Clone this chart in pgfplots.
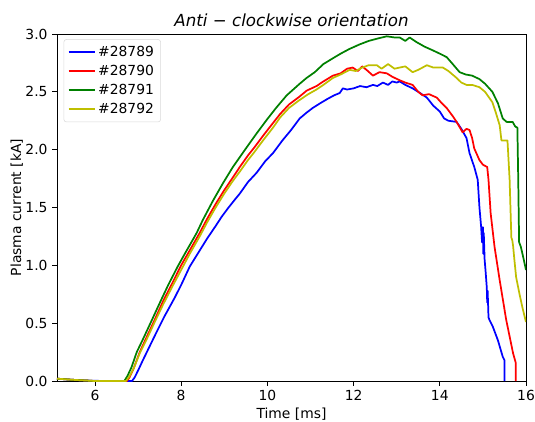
\documentclass[border=0pt]{standalone}
\usepackage{fontspec}
\setmainfont{DejaVu Sans}
\usepackage{pgfplots}
\pgfplotsset{compat=1.18}
\definecolor{mplblue}{rgb}{0,0,1}
\definecolor{mplred}{rgb}{1,0,0}
\definecolor{mplgreen}{rgb}{0,0.5,0}
\definecolor{mplyellow}{rgb}{0.75,0.75,0}
\begin{document}
\begin{tikzpicture}[font=\fontsize{10.4}{12.5}\selectfont]
\path[use as bounding box] (-42.75pt,-30pt) rectangle (358.5pt,285.75pt);
\begin{axis}[
  at={(0pt,0pt)}, anchor=south west,
  scale only axis, width=351.75pt, height=260.25pt,
  xmin=5.12, xmax=16, ymin=0, ymax=3,
  xtick={6,8,10,12,14,16}, ytick={0,0.5,1,1.5,2,2.5,3},
  yticklabel style={/pgf/number format/.cd,fixed,fixed zerofill,precision=1},
  /pgf/number format/assume math mode=true,
  tick pos=left, tick align=outside, major tick length=3.6pt,
  tick style={black, line width=0.6pt},
  axis line style={black, line width=0.6pt},
  xlabel={Time [ms]}, ylabel={Plasma current [kA]},
  xlabel style={yshift=1.5pt},
  ylabel shift=-5pt,
  title={Anti − clockwise orientation},
  title style={font=\fontsize{12.5}{15}\selectfont\itshape, yshift=-4pt},
  legend cell align=left,
  legend style={at={(0.014,0.985)}, anchor=north west, draw=black!15, rounded corners=2pt,
     fill=white, font=\fontsize{10.4}{12.5}\selectfont, inner sep=3pt, row sep=1pt},
  legend image code/.code={\draw[#1, line width=1.3pt] (0pt,0pt) -- (19.5pt,0pt);},
  every axis plot/.append style={line width=1.3pt, line join=round},
]
\addplot[mplblue] coordinates {
(5.12,0.020) (5.4,0.012) (5.8,0.004) (6.2,0.000) (6.86,0.000) (6.92,0.03) (7.00,0.09) (7.10,0.17)
(7.23,0.27) (7.40,0.40) (7.60,0.55) (7.85,0.72) (8.00,0.83) (8.20,0.99) (8.40,1.11) (8.60,1.23)
(8.80,1.34) (8.94,1.42) (9.10,1.50) (9.25,1.57) (9.36,1.62) (9.55,1.72) (9.75,1.80) (9.95,1.90)
(10.13,1.97) (10.35,2.08) (10.55,2.17) (10.75,2.27) (10.91,2.32) (11.05,2.36) (11.22,2.40)
(11.40,2.44) (11.55,2.47) (11.68,2.49) (11.75,2.53) (11.85,2.52) (12.00,2.53) (12.15,2.55)
(12.30,2.54) (12.45,2.56) (12.55,2.55) (12.68,2.58) (12.80,2.56) (12.90,2.59) (13.00,2.58)
(13.07,2.59) (13.20,2.56) (13.37,2.53) (13.50,2.50) (13.70,2.45) (13.85,2.38) (14.00,2.33)
(14.10,2.27) (14.20,2.25) (14.39,2.24) (14.50,2.18) (14.62,2.10) (14.69,1.97) (14.80,1.85)
(14.88,1.74) (14.92,1.50) (14.96,1.33) (14.98,1.20) (15.00,1.33) (15.01,1.10) (15.02,1.28)
(15.04,1.05) (15.06,0.96) (15.09,0.81) (15.10,0.68) (15.11,0.78) (15.13,0.55) (15.15,0.53)
(15.23,0.47) (15.35,0.35) (15.46,0.21) (15.50,0.18) (15.50,0.00)
};
\addlegendentry{\#28789}
\addplot[mplred] coordinates {
(5.12,0.02) (5.5,0.01) (6.0,0.0) (6.74,0.0) (6.80,0.03) (6.90,0.11) (7.04,0.25) (7.20,0.38)
(7.40,0.54) (7.58,0.69) (7.80,0.85) (8.00,1.00) (8.20,1.13) (8.43,1.28) (8.60,1.40) (8.80,1.53)
(9.00,1.65) (9.20,1.76) (9.36,1.85) (9.55,1.95) (9.70,2.02) (9.90,2.12) (10.13,2.23) (10.30,2.31)
(10.50,2.39) (10.75,2.46) (10.91,2.51) (11.14,2.55) (11.30,2.59) (11.52,2.64) (11.70,2.66)
(11.85,2.70) (11.98,2.71) (12.10,2.68) (12.20,2.72) (12.30,2.69) (12.45,2.64) (12.60,2.67)
(12.77,2.66) (12.90,2.63) (13.07,2.60) (13.20,2.58) (13.37,2.56) (13.50,2.50) (13.60,2.47)
(13.75,2.48) (13.93,2.45) (14.05,2.40) (14.16,2.36) (14.30,2.29) (14.39,2.24) (14.53,2.15)
(14.62,2.18) (14.69,2.17) (14.75,2.10) (14.80,2.01) (14.92,1.91) (15.00,1.87) (15.10,1.85)
(15.13,1.74) (15.18,1.45) (15.27,1.16) (15.39,0.87) (15.54,0.53) (15.70,0.24) (15.76,0.16)
(15.76,0.0)
};
\addlegendentry{\#28790}
\addplot[mplgreen] coordinates {
(5.12,0.02) (5.5,0.01) (6.0,0.0) (6.68,0.0) (6.75,0.04) (6.85,0.12) (6.97,0.25) (7.10,0.35)
(7.30,0.51) (7.51,0.68) (7.70,0.83) (7.92,0.99) (8.10,1.11) (8.36,1.28) (8.50,1.39) (8.74,1.56)
(8.97,1.71) (9.20,1.85) (9.52,2.02) (9.75,2.14) (9.99,2.26) (10.20,2.36) (10.45,2.47) (10.75,2.57)
(10.91,2.62) (11.10,2.67) (11.30,2.74) (11.52,2.79) (11.70,2.83) (11.90,2.87) (12.14,2.91)
(12.35,2.94) (12.55,2.96) (12.77,2.98) (12.95,2.97) (13.07,2.97) (13.20,2.94) (13.30,2.97)
(13.46,2.93) (13.65,2.89) (13.83,2.86) (14.00,2.83) (14.16,2.80) (14.30,2.74) (14.46,2.67)
(14.60,2.65) (14.75,2.64) (14.92,2.61) (15.05,2.57) (15.22,2.50) (15.35,2.40) (15.46,2.27)
(15.55,2.24) (15.69,2.24) (15.75,2.20) (15.80,2.19) (15.82,1.74) (15.84,1.20) (15.88,1.16)
(15.93,1.08) (16.0,0.96)
};
\addlegendentry{\#28791}
\addplot[mplyellow] coordinates {
(5.12,0.02) (5.5,0.01) (6.0,0.0) (6.72,0.0) (6.80,0.04) (6.90,0.11) (7.04,0.24) (7.20,0.36)
(7.40,0.52) (7.58,0.66) (7.80,0.82) (8.00,0.96) (8.20,1.10) (8.43,1.25) (8.60,1.37) (8.80,1.50)
(9.00,1.62) (9.20,1.73) (9.36,1.81) (9.55,1.91) (9.70,1.98) (9.90,2.08) (10.13,2.19) (10.30,2.28)
(10.50,2.36) (10.75,2.43) (10.95,2.48) (11.14,2.52) (11.30,2.56) (11.52,2.62) (11.70,2.65)
(11.91,2.69) (12.05,2.68) (12.20,2.71) (12.35,2.73) (12.54,2.73) (12.65,2.70) (12.80,2.74)
(12.95,2.70) (13.07,2.71) (13.20,2.72) (13.37,2.67) (13.50,2.69) (13.70,2.73) (13.85,2.71)
(14.07,2.71) (14.20,2.68) (14.39,2.62) (14.50,2.58) (14.62,2.56) (14.75,2.56) (14.92,2.54)
(15.05,2.50) (15.22,2.41) (15.30,2.32) (15.39,2.21) (15.43,2.08) (15.57,2.08) (15.62,1.74)
(15.66,1.24) (15.68,1.22) (15.70,1.17) (15.73,1.05) (15.77,0.90) (15.85,0.75) (15.92,0.63)
(16.0,0.51)
};
\addlegendentry{\#28792}
\end{axis}
\end{tikzpicture}
\end{document}
